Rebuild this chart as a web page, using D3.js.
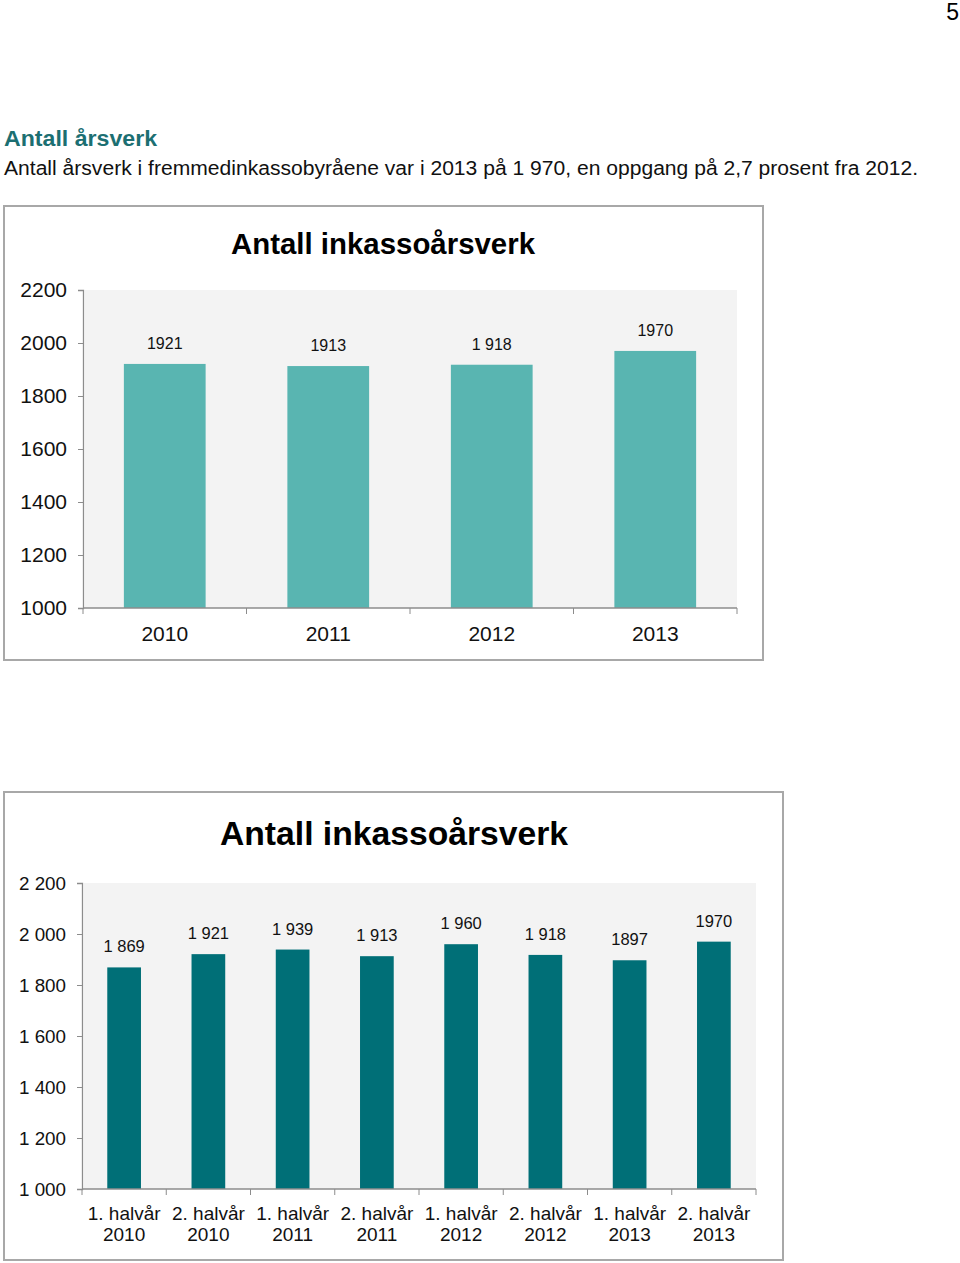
<!DOCTYPE html>
<html><head><meta charset="utf-8">
<script src="https://cdn.jsdelivr.net/npm/d3@7"></script>
<style>
body{margin:0;background:#fff;font-family:"Liberation Sans",Arial,sans-serif;}
</style></head>
<body>
<svg id="c" width="960" height="1263"></svg>
<script>
const years = ["2010","2011","2012","2013"];
const yearValues = [1921,1913,1918,1970];
const yearLabels = ["1921","1913","1 918","1970"];
const yearTicks = [1000,1200,1400,1600,1800,2000,2200];
const yearTickLabels = ["1000","1200","1400","1600","1800","2000","2200"];

const halves = [["1. halvår","2010"],["2. halvår","2010"],["1. halvår","2011"],["2. halvår","2011"],["1. halvår","2012"],["2. halvår","2012"],["1. halvår","2013"],["2. halvår","2013"]];
const halfValues = [1869,1921,1939,1913,1960,1918,1897,1970];
const halfLabels = ["1 869","1 921","1 939","1 913","1 960","1 918","1897","1970"];
const halfTicks = [1000,1200,1400,1600,1800,2000,2200];
const halfTickLabels = ["1 000","1 200","1 400","1 600","1 800","2 000","2 200"];

const svg = d3.select("#c");
const F = '"Liberation Sans",Arial,sans-serif';

svg.append("text").attr("x",959).attr("y",20).attr("text-anchor","end")
  .attr("font-family",F).attr("font-size",23).text("5");
svg.append("text").attr("x",4).attr("y",146).attr("font-family",F).attr("font-size",22)
  .attr("font-weight","bold").attr("fill","#1c6f72")
  .attr("textLength",153).attr("lengthAdjust","spacingAndGlyphs").text("Antall årsverk");
svg.append("text").attr("x",4).attr("y",175).attr("font-family",F).attr("font-size",20)
  .attr("fill","#111").attr("textLength",914).attr("lengthAdjust","spacingAndGlyphs")
  .text("Antall årsverk i fremmedinkassobyråene var i 2013 på 1 970, en oppgang på 2,7 prosent fra 2012.");

function chart(o){
  const g = svg.append("g");
  g.append("rect").attr("x",o.box[0]).attr("y",o.box[1]).attr("width",o.box[2]).attr("height",o.box[3])
    .attr("fill","#fff").attr("stroke","#a8a8a8").attr("stroke-width",2);
  g.append("text").attr("x",o.titleX).attr("y",o.titleY).attr("text-anchor","middle")
    .attr("font-family",F).attr("font-size",o.titleSize).attr("font-weight","bold")
    .attr("textLength",o.titleLen).attr("lengthAdjust","spacingAndGlyphs").text("Antall inkassoårsverk");
  const x = d3.scaleBand().domain(d3.range(o.values.length)).range([o.x0,o.x1]).paddingInner(o.pad).paddingOuter(o.pad/2);
  const y = d3.scaleLinear().domain([1000,2200]).range([o.y0,o.y1]);
  g.append("rect").attr("x",o.x0+2).attr("y",o.y1).attr("width",o.x1-o.x0-2).attr("height",o.y0-o.y1).attr("fill","#f3f3f3");
  g.selectAll(".bar").data(o.values).join("rect")
    .attr("x",(d,i)=>x(i)).attr("width",x.bandwidth())
    .attr("y",d=>y(d)).attr("height",d=>y(1000)-y(d)).attr("fill",o.color);
  g.selectAll(".lab").data(o.values).join("text")
    .attr("x",(d,i)=>x(i)+x.bandwidth()/2).attr("y",d=>y(d)-o.labOff)
    .attr("text-anchor","middle").attr("font-family",F).attr("font-size",o.labSize).attr("fill","#111")
    .text((d,i)=>o.labels[i]);
  const ya = d3.axisLeft(y).tickValues(o.ticks).tickSize(5).tickPadding(11).tickFormat((d,i)=>o.tickLabels[i]);
  const yg = g.append("g").attr("transform",`translate(${o.x0},0)`).call(ya);
  yg.select(".domain").attr("stroke","#8c8c8c").attr("stroke-width",1.3);
  yg.selectAll(".tick line").attr("stroke","#8c8c8c");
  yg.selectAll(".tick text").attr("font-family",F).attr("font-size",o.ySize).attr("fill","#111");
  const xs = o.values.map((d,i)=>x(i)-x.step()*x.paddingInner()/2);
  xs.push(o.x1);
  g.append("line").attr("x1",o.x0).attr("x2",o.x1).attr("y1",o.y0).attr("y2",o.y0).attr("stroke","#8c8c8c").attr("stroke-width",1.3);
  g.selectAll(".xt").data(xs).join("line").attr("x1",d=>d).attr("x2",d=>d).attr("y1",o.y0).attr("y2",o.y0+6).attr("stroke","#8c8c8c");
  const xl = g.selectAll(".xl").data(o.cats).join("text")
    .attr("text-anchor","middle").attr("font-family",F).attr("font-size",o.xSize).attr("fill","#111")
    .attr("transform",(d,i)=>`translate(${x(i)+x.bandwidth()/2},${o.xLabY})`);
  xl.selectAll("tspan").data(d=>Array.isArray(d)?d:[d]).join("tspan")
    .attr("x",0).attr("dy",(d,i)=>i===0?0:o.xLine).text(d=>d);
}

chart({box:[4,206,759,454], titleX:383, titleY:254, titleSize:29, titleLen:304,
  x0:83, x1:737, y0:608, y1:290, pad:0.5, color:"#59b5b1",
  values:yearValues, labels:yearLabels, labOff:15, labSize:16,
  ticks:yearTicks, tickLabels:yearTickLabels, ySize:21,
  cats:years, xSize:21, xLabY:641, xLine:0});

chart({box:[4,792,779,468], titleX:394, titleY:845, titleSize:32.5, titleLen:348,
  x0:82, x1:756, y0:1189, y1:883, pad:0.6, color:"#006f77",
  values:halfValues, labels:halfLabels, labOff:15, labSize:16.5,
  ticks:halfTicks, tickLabels:halfTickLabels, ySize:18.8,
  cats:halves, xSize:19, xLabY:1220, xLine:21});
</script>
</body></html>
